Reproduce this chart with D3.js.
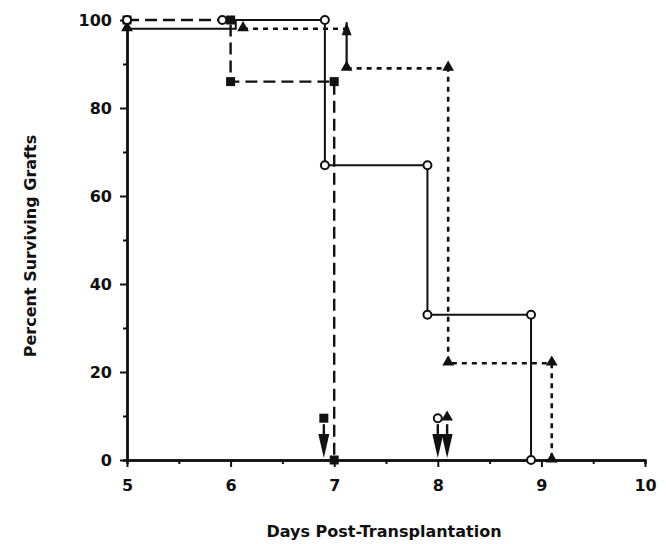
<!DOCTYPE html>
<html>
<head>
<meta charset="utf-8">
<script src="https://cdn.jsdelivr.net/npm/d3@7"></script>
<style>
  html, body { margin: 0; padding: 0; background: #fff; }
  svg text { font-family: "DejaVu Sans", sans-serif; fill: #111; font-weight: bold; }
</style>
</head>
<body>
<svg id="chart" width="666" height="544"></svg>
<script>
// Axis ticks
const xMajorTicks = [5, 6, 7, 8, 9, 10];
const xMinorTicks = [5.5, 6.5, 7.5, 8.5, 9.5];
const yMajorTicks = [0, 20, 40, 60, 80, 100];
const yMinorTicks = [10, 30, 50, 70, 90];

// Group drawn with filled squares (long dashes): [day, percent]
const squareLine = [[5.0, 100], [6.0, 100], [6.0, 86], [7.0, 86], [7.0, 0]];
const squarePoints = [[5.0, 100], [6.0, 100], [6.0, 86], [7.0, 86], [7.0, 0]];

// Group drawn with open circles (solid line)
const circleLine = [[5.0, 98], [6.05, 98], [6.05, 100], [6.91, 100], [6.91, 67],
                    [7.9, 67], [7.9, 33], [8.9, 33], [8.9, 0]];
const circlePoints = [[5.0, 100], [5.92, 100], [6.91, 100], [6.91, 67],
                      [7.9, 67], [7.9, 33], [8.9, 33], [8.9, 0]];

// Group drawn with filled triangles (short dashes)
const triangleLine = [[6.12, 98], [7.12, 98]];
const triangleLine2 = [[7.12, 89], [8.1, 89], [8.1, 22], [9.1, 22], [9.1, 0]];
const triangleRise = [[7.12, 89], [7.12, 99.5]];
const trianglePoints = [[5.0, 98], [6.12, 98], [7.12, 89], [8.1, 89],
                        [8.1, 22], [9.1, 22], [9.1, 0]];

// Treatment arrows on the time axis: group, day, marker level
const arrowGroups = ["square", "circle", "triangle"];
const arrowDays = [6.9, 8.0, 8.09];
const arrowLevel = 9.5;

const svg = d3.select("#chart");
const x = d3.scaleLinear().domain([5, 10]).range([127, 645]);
const y = d3.scaleLinear().domain([0, 100]).range([460, 20]);

// ---- axes ----
function styleAxis(g) {
  g.selectAll("path.domain").attr("stroke", "#111").attr("stroke-width", 2.4);
  g.selectAll(".tick line").attr("stroke", "#111").attr("stroke-width", 2);
  g.selectAll(".tick text").attr("font-size", 16).attr("fill", "#111")
    .attr("font-family", "DejaVu Sans, sans-serif").attr("font-weight", "bold");
}

svg.append("g")
  .attr("transform", `translate(0,${y(0)})`)
  .call(d3.axisBottom(x).tickValues(xMinorTicks).tickSize(4).tickFormat(""))
  .call(styleAxis);
svg.append("g")
  .attr("transform", `translate(0,${y(0)})`)
  .call(d3.axisBottom(x).tickValues(xMajorTicks).tickSize(7).tickSizeOuter(0).tickPadding(13).tickFormat(d3.format("d")))
  .call(styleAxis);

svg.append("g")
  .attr("transform", `translate(${x(5)},0)`)
  .call(d3.axisLeft(y).tickValues(yMinorTicks).tickSize(4).tickFormat(""))
  .call(styleAxis);
svg.append("g")
  .attr("transform", `translate(${x(5)},0)`)
  .call(d3.axisLeft(y).tickValues(yMajorTicks).tickSize(7).tickSizeOuter(0).tickPadding(8).tickFormat(d3.format("d")))
  .call(styleAxis);

// axis titles
svg.append("text")
  .attr("x", 384).attr("y", 537)
  .attr("text-anchor", "middle")
  .attr("font-size", 16)
  .text("Days Post-Transplantation");

svg.append("text")
  .attr("transform", "translate(36,246) rotate(-90)")
  .attr("text-anchor", "middle")
  .attr("font-size", 16)
  .text("Percent Surviving Grafts");

// ---- lines ----
const line = d3.line().x(d => x(d[0])).y(d => y(d[1]));
const plot = svg.append("g");

plot.append("path").datum(squareLine)
  .attr("d", line).attr("fill", "none")
  .attr("stroke", "#111").attr("stroke-width", 2.4)
  .attr("stroke-dasharray", "12,6");

plot.append("path").datum(circleLine)
  .attr("d", line).attr("fill", "none")
  .attr("stroke", "#111").attr("stroke-width", 2);

[triangleLine, triangleLine2].forEach(seg => {
  plot.append("path").datum(seg)
    .attr("d", line).attr("fill", "none")
    .attr("stroke", "#111").attr("stroke-width", 2.6)
    .attr("stroke-dasharray", "5,5");
});

// rising arrow on the triangle group
plot.append("path").datum(triangleRise)
  .attr("d", line).attr("fill", "none")
  .attr("stroke", "#111").attr("stroke-width", 2.2);
{
  const tx = x(triangleRise[1][0]), ty = y(triangleRise[1][1]);
  plot.append("path")
    .attr("d", `M${tx},${ty} L${tx - 5},${ty + 13} L${tx + 5},${ty + 13} Z`)
    .attr("fill", "#111");
}

// ---- markers ----
const sqSize = 9;
plot.selectAll("rect.sq").data(squarePoints).join("rect")
  .attr("class", "sq")
  .attr("x", d => x(d[0]) - sqSize / 2).attr("y", d => y(d[1]) - sqSize / 2)
  .attr("width", sqSize).attr("height", sqSize).attr("fill", "#111");

const tri = d3.symbol().type(d3.symbolTriangle).size(60);
plot.selectAll("path.tri").data(trianglePoints).join("path")
  .attr("class", "tri")
  .attr("transform", d => `translate(${x(d[0])},${y(d[1]) - 1})`)
  .attr("d", tri).attr("fill", "#111");

plot.selectAll("circle.ci").data(circlePoints).join("circle")
  .attr("class", "ci")
  .attr("cx", d => x(d[0])).attr("cy", d => y(d[1]))
  .attr("r", 4).attr("fill", "#fff")
  .attr("stroke", "#111").attr("stroke-width", 2);

// ---- treatment arrows ----
arrowGroups.forEach((grp, i) => {
  const ax = x(arrowDays[i]);
  const my = y(arrowLevel);
  const tipY = y(0) - 2;
  const headTop = tipY - 24;
  plot.append("line")
    .attr("x1", ax).attr("x2", ax).attr("y1", my + 6).attr("y2", headTop + 2)
    .attr("stroke", "#111").attr("stroke-width", 2.4);
  plot.append("path")
    .attr("d", `M${ax - 5.5},${headTop} L${ax + 5.5},${headTop} L${ax},${tipY} Z`)
    .attr("fill", "#111");
  if (grp === "square") {
    plot.append("rect")
      .attr("x", ax - sqSize / 2).attr("y", my - sqSize / 2)
      .attr("width", sqSize).attr("height", sqSize).attr("fill", "#111");
  } else if (grp === "circle") {
    plot.append("circle")
      .attr("cx", ax).attr("cy", my).attr("r", 4)
      .attr("fill", "#fff").attr("stroke", "#111").attr("stroke-width", 2);
  } else {
    plot.append("path")
      .attr("transform", `translate(${ax},${my - 1})`)
      .attr("d", tri).attr("fill", "#111");
  }
});
</script>
</body>
</html>
